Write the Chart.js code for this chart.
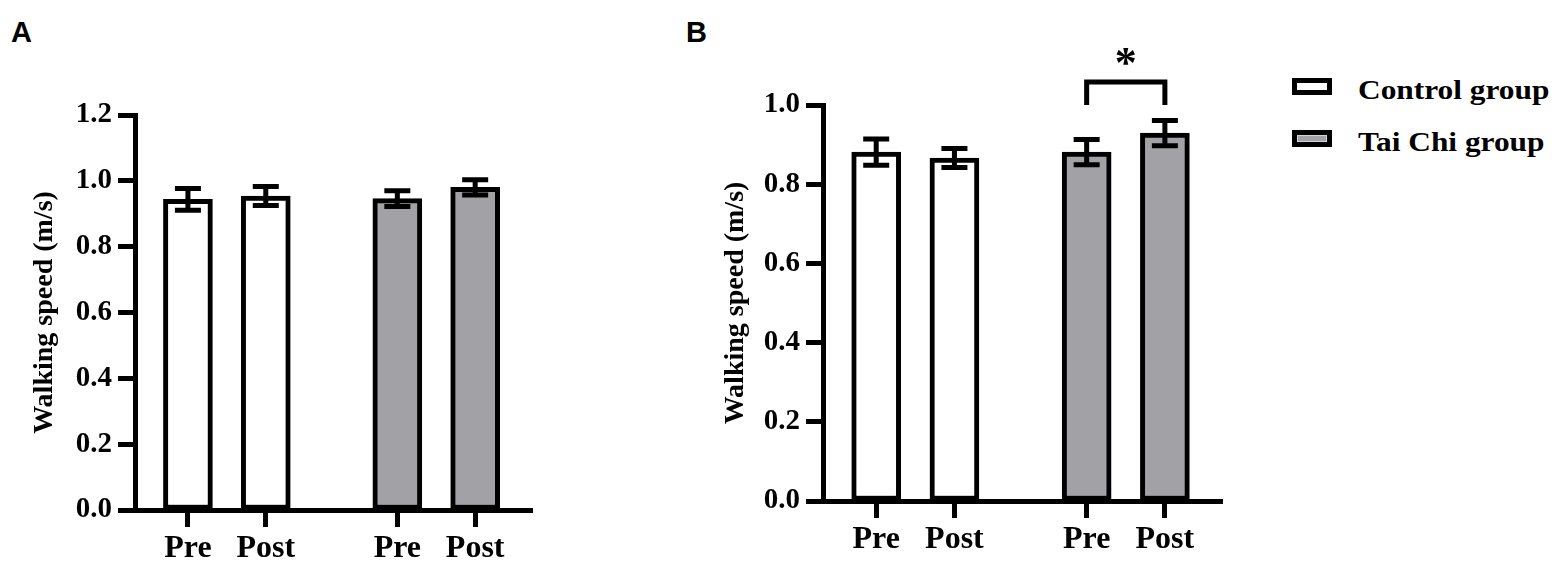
<!DOCTYPE html>
<html>
<head>
<meta charset="utf-8">
<title>Walking speed</title>
<script src="https://cdn.jsdelivr.net/npm/chart.js@4.4.0/dist/chart.umd.min.js"></script>
<style>
  body { margin: 0; background: #fff; width: 1562px; height: 571px; position: relative; overflow: hidden; }
  canvas { position: absolute; top: 0; }
  .panel { position: absolute; top: 16px; font: bold 29px "Liberation Sans", Arial, sans-serif; }
  .legend { position: absolute; left: 1292px; top: 73px; font: bold 28px "Liberation Serif", "Times New Roman", serif; }
  .legend div { height: 52px; line-height: 34px; white-space: nowrap; }
  .legend span { display: inline-block; width: 30px; height: 7px; border: 5px solid #000; margin-right: 26px; vertical-align: 4px; }
  .legend b { display: inline-block; transform: scaleX(1.12); transform-origin: left center; }
</style>
</head>
<body>
<div class="panel" style="left:11px">A</div>
<div class="panel" style="left:686px">B</div>
<canvas id="chartA" width="560" height="571" style="left:0"></canvas>
<canvas id="chartB" width="560" height="571" style="left:680px"></canvas>
<div class="legend" id="legend"></div>
<script>
// data
var timepoints = ['Pre', 'Post'];
var groups = ['Control group', 'Tai Chi group'];
var groupColors = ['#ffffff', '#a2a2a6'];

var controlA = [0.944, 0.954];
var controlErrA = [0.033, 0.029];
var taichiA = [0.946, 0.980];
var taichiErrA = [0.024, 0.023];

var controlB = [0.881, 0.866];
var controlErrB = [0.033, 0.024];
var taichiB = [0.881, 0.929];
var taichiErrB = [0.032, 0.032];

// layout: bar slots on the x axis (gap between groups)
var slotsControl = [0, 1];
var slotsTaichi = [2.69, 3.69];
var font = 'Liberation Serif';

// legend
var lg = document.getElementById('legend');
groups.forEach(function (g, i) {
  var row = document.createElement('div');
  var box = document.createElement('span');
  box.style.background = groupColors[i];
  if (i == 1) box.style.boxShadow = 'inset 0 0 0 1px #d4d4d6';
  var txt = document.createElement('b');
  txt.textContent = g;
  row.appendChild(box);
  row.appendChild(txt);
  lg.appendChild(row);
});

var errorBars = {
  id: 'errorBars',
  afterDatasetsDraw: function (chart) {
    var ctx = chart.ctx, y = chart.scales.y;
    ctx.save();
    ctx.strokeStyle = '#000';
    ctx.lineWidth = 5;
    chart.data.datasets.forEach(function (ds, di) {
      chart.getDatasetMeta(di).data.forEach(function (bar, i) {
        var v = ds.data[i].y, e = ds.errors[i];
        var top = y.getPixelForValue(v + e), bot = y.getPixelForValue(v - e);
        ctx.beginPath();
        ctx.moveTo(bar.x, top); ctx.lineTo(bar.x, bot);
        ctx.moveTo(bar.x - 13, top); ctx.lineTo(bar.x + 13, top);
        ctx.moveTo(bar.x - 13, bot); ctx.lineTo(bar.x + 13, bot);
        ctx.stroke();
      });
    });
    var sig = chart.options.plugins.errorBars.sig;
    if (sig) {
      var x1 = chart.scales.x.getPixelForValue(slotsTaichi[0]);
      var x2 = chart.scales.x.getPixelForValue(slotsTaichi[1]);
      var yTop = y.getPixelForValue(sig.level), yEnd = y.getPixelForValue(sig.end);
      ctx.beginPath();
      ctx.moveTo(x1, yEnd); ctx.lineTo(x1, yTop); ctx.lineTo(x2, yTop); ctx.lineTo(x2, yEnd);
      ctx.stroke();
      ctx.fillStyle = '#000';
      ctx.font = 'bold 44px "' + font + '"';
      ctx.textAlign = 'center';
      ctx.textBaseline = 'alphabetic';
      ctx.fillText(sig.mark, (x1 + x2) / 2, yTop - 5);
    }
    ctx.restore();
  }
};

function pts(slots, vals) {
  return vals.map(function (v, i) { return { x: slots[i], y: v }; });
}

function makeChart(id, ctl, ctlErr, tc, tcErr, yMax, axisW, titlePad, padTop, padRight, sig) {
  var allSlots = slotsControl.concat(slotsTaichi);
  var labels = timepoints.concat(timepoints);
  return new Chart(document.getElementById(id), {
    type: 'bar',
    data: {
      datasets: [
        { label: groups[0], data: pts(slotsControl, ctl), errors: ctlErr, backgroundColor: groupColors[0] },
        { label: groups[1], data: pts(slotsTaichi, tc), errors: tcErr, backgroundColor: groupColors[1] }
      ]
    },
    options: {
      responsive: false,
      animation: false,
      layout: { padding: { top: padTop, right: padRight, left: 0, bottom: 0 } },
      datasets: { bar: { grouped: false, barThickness: 49, borderColor: '#000', borderWidth: 5, borderSkipped: false } },
      plugins: { legend: { display: false }, tooltip: { enabled: false }, errorBars: { sig: sig } },
      scales: {
        x: {
          type: 'linear', min: -0.68, max: 4.42, offset: false,
          afterBuildTicks: function (s) { s.ticks = allSlots.map(function (v) { return { value: v }; }); },
          afterFit: function (s) { s.height = 571 - padTop - (id == 'chartA' ? 395 : 396); },
          grid: { offset: false, drawOnChartArea: false, tickLength: 17, tickWidth: 5, tickColor: '#000' },
          border: { color: '#000', width: 5 },
          ticks: {
            padding: 3, color: '#000', maxRotation: 0, autoSkip: false,
            font: { family: font, size: 32, weight: 'bold' },
            callback: function (v) { return labels[allSlots.indexOf(v)]; }
          }
        },
        y: {
          min: 0, max: yMax,
          afterFit: function (s) { s.width = axisW; },
          grid: { drawOnChartArea: false, tickLength: 17, tickWidth: 5, tickColor: '#000' },
          border: { color: '#000', width: 5 },
          ticks: {
            stepSize: 0.2, padding: 6, color: '#000',
            font: { family: font, size: 29, weight: 'bold' },
            callback: function (v) { return v.toFixed(1); }
          },
          title: {
            display: true, text: 'Walking speed (m/s)', color: '#000',
            padding: { top: titlePad, bottom: 0 },
            font: { family: font, size: 28, weight: 'bold' }
          }
        }
      }
    },
    plugins: [errorBars]
  });
}

makeChart('chartA', controlA, controlErrA, taichiA, taichiErrA, 1.2, 135, 28, 115, 28, null);
makeChart('chartB', controlB, controlErrB, taichiB, taichiErrB, 1.0, 143, 39, 105, 18,
  { level: 1.058, end: 1.0, mark: '*' });
</script>
</body>
</html>
